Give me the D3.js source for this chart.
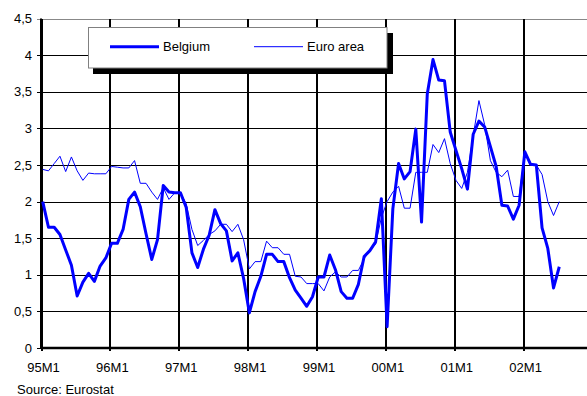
<!DOCTYPE html>
<html>
<head>
<meta charset="utf-8">
<script src="https://cdn.jsdelivr.net/npm/d3@7"></script>
<style>
    body { margin: 0; background: #fff; }
    text { font-family: Arial, "Liberation Sans", sans-serif; font-size: 13px; fill: #000; }
</style>
</head>
<body>
<div id="chart"></div>
<script>
// month labels shown on the x axis (one per January)
const yearLabels = ["95M1", "96M1", "97M1", "98M1", "99M1", "00M1", "01M1", "02M1"];
const yTicks = [0, 0.5, 1, 1.5, 2, 2.5, 3, 3.5, 4, 4.5];
const seriesNames = ["Belgium", "Euro area"];

// monthly values, 95M1 .. 02M7
const belgium = [
    2.00, 1.65, 1.65, 1.55, 1.34, 1.13, 0.71, 0.90, 1.02, 0.91, 1.12, 1.23,
    1.43, 1.43, 1.62, 2.03, 2.13, 1.93, 1.56, 1.21, 1.48, 2.22, 2.13, 2.12,
    2.12, 1.92, 1.30, 1.10, 1.35, 1.54, 1.89, 1.70, 1.60, 1.19, 1.30, 0.95,
    0.48, 0.77, 0.98, 1.28, 1.28, 1.18, 1.18, 0.96, 0.79, 0.68, 0.57, 0.70,
    0.97, 0.97, 1.27, 1.07, 0.77, 0.68, 0.68, 0.87, 1.25, 1.33, 1.45, 2.04,
    0.29, 1.90, 2.52, 2.31, 2.41, 2.99, 1.72, 3.47, 3.94, 3.66, 3.65, 2.95,
    2.70, 2.45, 2.17, 2.92, 3.10, 3.02, 2.75, 2.48, 1.95, 1.94, 1.76, 1.95,
    2.68, 2.51, 2.50, 1.64, 1.36, 0.82, 1.11
];
const euroArea = [
    2.44, 2.42, 2.52, 2.62, 2.41, 2.61, 2.42, 2.29, 2.39, 2.38, 2.38, 2.38,
    2.48, 2.47, 2.46, 2.46, 2.56, 2.25, 2.25, 2.13, 2.03, 2.19, 2.03, 2.12,
    2.12, 1.97, 1.62, 1.40, 1.47, 1.55, 1.60, 1.69, 1.69, 1.59, 1.69, 1.48,
    1.08, 1.18, 1.18, 1.46, 1.37, 1.37, 1.28, 1.28, 0.98, 0.97, 0.88, 0.88,
    0.88, 0.78, 0.97, 1.04, 0.97, 0.97, 1.06, 1.06, 1.22, 1.33, 1.42, 1.78,
    2.00, 2.13, 2.21, 1.91, 1.91, 2.40, 2.40, 2.40, 2.78, 2.67, 2.86, 2.52,
    2.29, 2.18, 2.40, 2.90, 3.38, 3.05, 2.56, 2.40, 2.34, 2.43, 2.07, 2.07,
    2.66, 2.50, 2.50, 2.37, 2.00, 1.81, 2.00
];

class InflationVis {
    constructor(parentElement) {
        this.parentElement = parentElement;
        this.initVis();
    }

    initVis() {
        let vis = this;

        vis.totalW = 587;
        vis.totalH = 396;
        vis.margin = { top: 18.6, left: 41 };
        vis.height = 348 - vis.margin.top;
        vis.width = 551; // 8 years of months, runs past the right edge

        vis.svg = d3.select("#" + vis.parentElement).append("svg")
            .attr("width", vis.totalW)
            .attr("height", vis.totalH);

        vis.g = vis.svg.append("g")
            .attr("transform", `translate(${vis.margin.left},${vis.margin.top})`);

        vis.x = d3.scaleLinear().domain([0, 96]).range([0, vis.width]);
        vis.y = d3.scaleLinear().domain([0, 4.5]).range([vis.height, 0]);

        vis.updateVis();
    }

    updateVis() {
        let vis = this;
        let fmt = d => String(d).replace(".", ",");

        // horizontal grid + y labels
        vis.g.append("g")
            .attr("class", "y-axis")
            .call(d3.axisLeft(vis.y).tickValues(yTicks).tickFormat(fmt)
                .tickSize(-(vis.totalW - vis.margin.left)).tickPadding(9))
            .call(g => g.select(".domain").remove())
            .call(g => g.selectAll(".tick line")
                .attr("x1", -4)
                .attr("stroke", (d, i) => d === 4.5 ? "#888" : "#000")
                .attr("shape-rendering", "crispEdges"))
            .call(g => g.selectAll(".tick text").style("font-size", "13px"));

        // vertical grid + x labels
        vis.g.append("g")
            .attr("class", "x-axis")
            .attr("transform", `translate(0,${vis.height})`)
            .call(d3.axisBottom(vis.x).tickValues(yearLabels.map((d, i) => i * 12))
                .tickFormat((d, i) => yearLabels[i])
                .tickSize(-vis.height).tickPadding(15))
            .call(g => g.select(".domain").remove())
            .call(g => g.selectAll(".tick line")
                .attr("y1", 3)
                .attr("stroke", "#000")
                .attr("stroke-width", 2)
                .attr("shape-rendering", "crispEdges"))
            .call(g => g.selectAll(".tick text").attr("dx", 2).style("font-size", "13px"));

        // axis lines
        vis.g.append("line")
            .attr("x1", 0).attr("x2", 0)
            .attr("y1", 0).attr("y2", vis.height)
            .attr("stroke", "#000").attr("stroke-width", 2);
        vis.g.append("line")
            .attr("x1", 0).attr("x2", vis.totalW)
            .attr("y1", vis.height).attr("y2", vis.height)
            .attr("stroke", "#000").attr("stroke-width", 2.5);

        let line = d3.line()
            .x((d, i) => vis.x(i + 0.3))
            .y(d => vis.y(d));

        vis.g.append("path")
            .datum(euroArea)
            .attr("fill", "none")
            .attr("stroke", "#0000ff")
            .attr("stroke-width", 1)
            .attr("d", line);

        vis.g.append("path")
            .datum(belgium)
            .attr("fill", "none")
            .attr("stroke", "#0000ff")
            .attr("stroke-width", 3)
            .attr("stroke-linejoin", "round")
            .attr("d", line);

        // Legend
        let legend = vis.svg.append("g").attr("class", "legend");
        legend.append("rect")
            .attr("x", 93).attr("y", 33)
            .attr("width", 300).attr("height", 41)
            .attr("fill", "#000");
        legend.append("rect")
            .attr("x", 88.5).attr("y", 27.5)
            .attr("width", 298.5).attr("height", 40.5)
            .attr("fill", "#fff")
            .attr("stroke", "#808080");

        let items = legend.selectAll(".item")
            .data(seriesNames)
            .enter().append("g")
            .attr("class", "item")
            .attr("transform", (d, i) => `translate(${110 + i * 144},46.7)`);

        items.append("line")
            .attr("x1", 0).attr("x2", 49)
            .attr("stroke", "#0000ff")
            .attr("stroke-width", (d, i) => i === 0 ? 3 : 1);

        items.append("text")
            .attr("x", 53)
            .attr("dy", ".35em")
            .text(d => d);

        vis.svg.append("text")
            .attr("x", 17)
            .attr("y", 394)
            .text("Source: Eurostat");
    }
}

new InflationVis("chart");
</script>
</body>
</html>
